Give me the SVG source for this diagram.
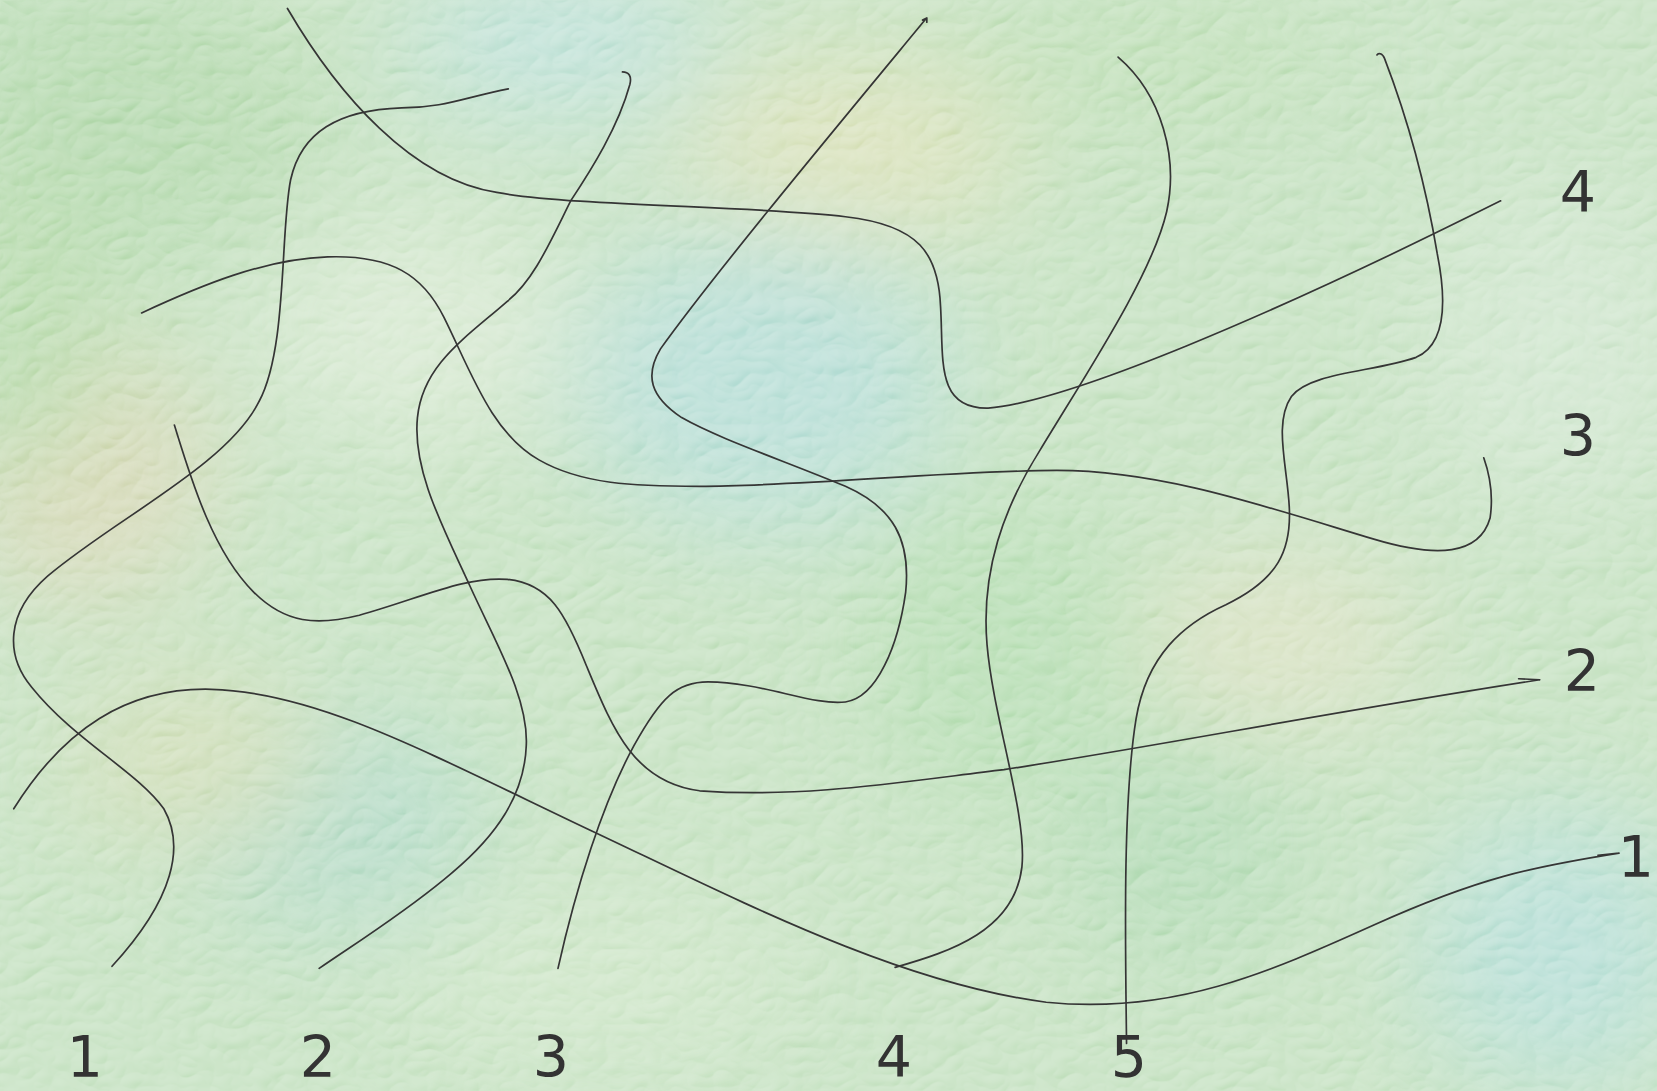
<svg xmlns="http://www.w3.org/2000/svg" width="1657" height="1091" viewBox="0 0 1657 1091">
<defs>
<style>
.wire{fill:none;stroke:#353535;stroke-width:1.6;stroke-linecap:round;stroke-linejoin:round}
.lbl{font-family:"DejaVu Sans","Liberation Sans",sans-serif;font-size:57px;fill:#333;text-anchor:middle}
</style>
<filter id="blur" x="-50%" y="-50%" width="200%" height="200%"><feGaussianBlur stdDeviation="55"/></filter>
<filter id="tex" x="0" y="0" width="100%" height="100%">
<feTurbulence type="turbulence" baseFrequency="0.028 0.04" numOctaves="2" seed="7" result="n"/>
<feDiffuseLighting in="n" surfaceScale="3" lighting-color="#ffffff" result="l"><feDistantLight azimuth="235" elevation="50"/></feDiffuseLighting>
</filter>
</defs>
<g id="background">
<rect width="1657" height="1091" fill="#b8dbb3"/>
<g filter="url(#blur)" opacity="0.9">
<ellipse cx="120" cy="120" rx="200" ry="140" fill="#a2d09a"/>
<ellipse cx="560" cy="40" rx="160" ry="80" fill="#b0dcd6"/>
<ellipse cx="850" cy="150" rx="170" ry="90" fill="#d6dcaa"/>
<ellipse cx="760" cy="380" rx="190" ry="150" fill="#a6d7d0"/>
<ellipse cx="80" cy="470" rx="130" ry="130" fill="#d2cfa6"/>
<ellipse cx="20" cy="320" rx="80" ry="160" fill="#a4d296"/>
<ellipse cx="420" cy="330" rx="160" ry="110" fill="#d2e6ca"/>
<ellipse cx="330" cy="820" rx="150" ry="110" fill="#a0d3bd"/>
<ellipse cx="190" cy="760" rx="130" ry="80" fill="#c9d6a6"/>
<ellipse cx="1000" cy="650" rx="140" ry="150" fill="#a6d7a2"/>
<ellipse cx="1280" cy="640" rx="140" ry="90" fill="#d4dcb6"/>
<ellipse cx="1180" cy="850" rx="120" ry="110" fill="#a0d3a4"/>
<ellipse cx="1560" cy="950" rx="140" ry="140" fill="#a6d8d0"/>
<ellipse cx="1560" cy="350" rx="140" ry="160" fill="#c8e2c6"/>
<ellipse cx="1150" cy="60" rx="200" ry="80" fill="#b0d8a6"/>
<ellipse cx="600" cy="980" rx="200" ry="80" fill="#c6e2be"/>
</g>
<rect width="1657" height="1091" filter="url(#tex)" opacity="0.4" style="mix-blend-mode:overlay"/>
</g>
<g id="connectors" transform="scale(1.0568,1.0572)">
<path id="wire-a" class="wire" d="M272,8 C320,90 390,170 470,182 C540,195 720,195 800,205 C870,213 888,240 890,290 C893,340 885,387 935,386 C1010,380 1200,300 1420,190"/>
<path id="wire-b" class="wire" d="M481,84 C440,92 420,102 380,102 C320,104 285,125 275,170 C265,220 272,330 245,380 C215,440 110,490 45,545 C5,580 5,620 30,650 C70,700 130,730 155,765 C175,800 165,850 106,914"/>
<path id="wire-c" class="wire" d="M589,68 C595,68 598,72 596,80 C585,120 560,160 540,190 C520,230 505,265 480,285 C440,320 400,345 395,395 C390,445 420,500 445,555 C470,610 500,660 498,705 C496,760 460,800 420,832 C380,865 340,890 302,916"/>
<path id="wire-d" class="wire" d="M134,296 C190,270 250,245 310,243 C370,241 400,260 420,300 C445,350 465,410 510,435 C550,458 600,460 662,460 C760,460 900,445 1000,445 C1100,445 1200,480 1300,510 C1360,528 1400,525 1410,490 C1413,470 1410,450 1404,433"/>
<path id="wire-f" class="wire" d="M165,402 C180,450 200,520 240,560 C270,590 300,592 340,582 C400,565 440,545 480,548 C520,552 535,580 555,630 C580,690 600,740 662,748 C760,755 850,740 950,728 C1100,705 1250,675 1457,643 M1437,642 L1457,643"/>
<path id="wire-g" class="wire" d="M13,765 C60,690 120,650 200,652 C300,655 400,710 560,786 C700,852 850,930 990,948 C1110,960 1200,920 1300,875 C1400,830 1450,820 1532,807 M1512,809 L1532,807"/>
<path id="wire-h" class="wire" d="M528,916 C545,840 570,760 600,705 C625,660 640,645 670,645 C720,645 770,668 800,664 C830,660 850,610 857,560 C862,510 845,480 800,460 C740,435 680,415 645,395 C615,375 610,355 625,330 C675,260 800,110 876,18 M873,19 L877,17 L877,21"/>
<path id="wire-i" class="wire" d="M847,915 C900,900 960,880 967,820 C972,770 940,680 934,610 C928,540 950,480 984,426 C1030,350 1090,260 1104,200 C1115,150 1100,90 1058,54"/>
<path id="wire-j" class="wire" d="M1066,987 C1065,900 1062,760 1075,680 C1085,620 1120,590 1160,572 C1210,548 1222,520 1220,480 C1218,440 1205,400 1222,375 C1240,352 1300,352 1340,338 C1370,325 1368,280 1360,240 C1350,180 1335,120 1310,55 C1308,50 1304,50 1303,52"/>
</g>
<g id="labels-bottom">
<text id="b1" class="lbl" x="85" y="1077">1</text>
<text id="b2" class="lbl" x="318" y="1077">2</text>
<text id="b3" class="lbl" x="551" y="1077">3</text>
<text id="b4" class="lbl" x="894" y="1077">4</text>
<text id="b5" class="lbl" x="1129" y="1077">5</text>
</g>
<g id="labels-right">
<text id="r4" class="lbl" x="1578" y="212">4</text>
<text id="r3" class="lbl" x="1578" y="456">3</text>
<text id="r2" class="lbl" x="1582" y="691">2</text>
<text id="r1" class="lbl" x="1636" y="877">1</text>
</g>
</svg>
